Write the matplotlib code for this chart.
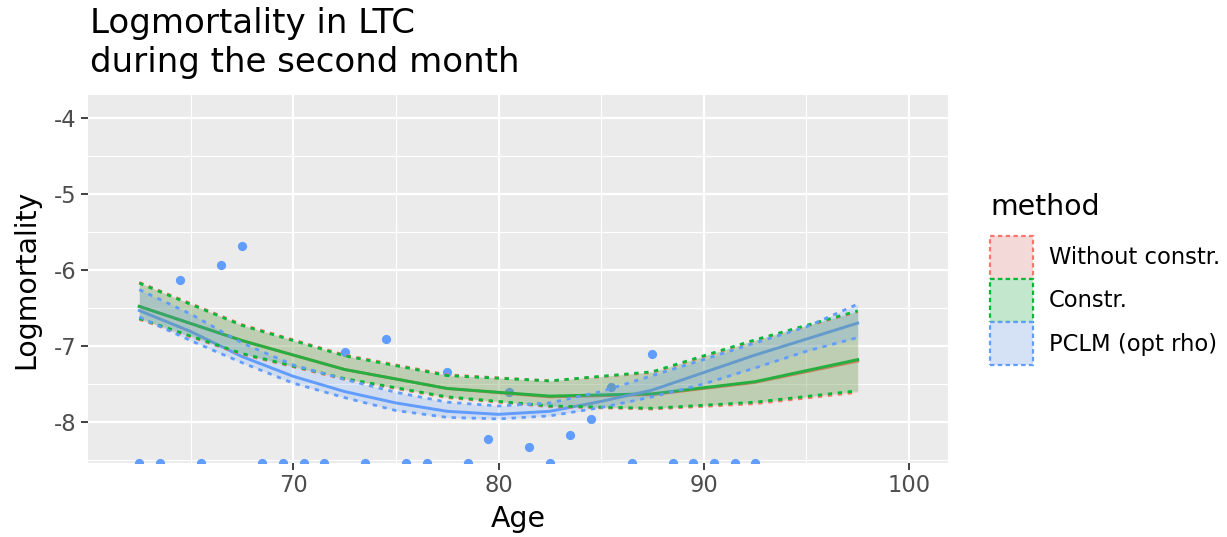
import numpy as np
import matplotlib
matplotlib.use("Agg")
import matplotlib.pyplot as plt
from matplotlib.patches import Patch
from matplotlib.ticker import FixedLocator, MultipleLocator

plt.rcParams['font.family'] = ['DejaVu Sans']
plt.rcParams['axes.unicode_minus'] = False

# observed log mortality (-inf = no deaths, drawn on the panel edge)
obs_age = [62.5, 63.5, 64.5, 65.5, 66.5, 67.5, 68.5, 69.5, 70.5, 71.5,
           72.5, 73.5, 74.5, 75.5, 76.5, 77.5, 78.5, 79.5, 80.5, 81.5,
           82.5, 83.5, 84.5, 85.5, 86.5, 87.5, 88.5, 89.5, 90.5, 91.5, 92.5]
obs_logm = [-np.inf, -np.inf, -6.13, -np.inf, -5.93, -5.69, -np.inf, -np.inf, -np.inf, -np.inf,
            -7.08, -np.inf, -6.91, -np.inf, -np.inf, -7.34, -np.inf, -8.23, -7.61, -8.33,
            -np.inf, -8.17, -7.96, -7.54, -np.inf, -7.11, -np.inf, -np.inf, -np.inf, -np.inf, -np.inf]

# grouped fits (5-year groups)
grp_age = [62.5, 67.5, 72.5, 77.5, 82.5, 87.5, 92.5, 97.5]
red_fit = [-6.48, -6.93, -7.31, -7.56, -7.67, -7.64, -7.48, -7.20]
red_hi = [-6.165, -6.72, -7.12, -7.38, -7.46, -7.35, -6.93, -6.55]
red_lo = [-6.65, -7.11, -7.44, -7.68, -7.80, -7.83, -7.76, -7.61]
green_fit = [-6.48, -6.93, -7.31, -7.56, -7.66, -7.63, -7.47, -7.18]
green_hi = [-6.175, -6.73, -7.13, -7.39, -7.46, -7.34, -6.92, -6.54]
green_lo = [-6.64, -7.10, -7.43, -7.67, -7.79, -7.82, -7.74, -7.59]

# PCLM fit
pclm_age = [62.5, 65, 67.5, 70, 72.5, 75, 77.5, 80, 82.5, 85, 87.5, 90, 92.5, 95, 97.5]
blue_fit = [-6.535, -6.81, -7.14, -7.40, -7.60, -7.75, -7.86, -7.90, -7.86, -7.73, -7.58, -7.35, -7.12, -6.91, -6.70]
blue_hi = [-6.26, -6.58, -6.96, -7.25, -7.44, -7.61, -7.74, -7.79, -7.75, -7.60, -7.39, -7.18, -6.96, -6.75, -6.45]
blue_lo = [-6.62, -6.93, -7.22, -7.49, -7.68, -7.85, -7.94, -7.96, -7.92, -7.81, -7.67, -7.50, -7.29, -7.07, -6.89]

methods = ['Without constr.', 'Constr.', 'PCLM (opt rho)']
colors = ['#F8766D', '#00BA38', '#619CFF']

series = [
    (grp_age, red_fit, red_lo, red_hi),
    (grp_age, green_fit, green_lo, green_hi),
    (pclm_age, blue_fit, blue_lo, blue_hi),
]

ymin, ymax = -8.54, -3.70
dotted = (0, (1.55, 2.05))

fig = plt.figure(figsize=(12.27, 5.37), dpi=100)
ax = fig.add_axes([88 / 1227, 1 - 463 / 537, 860 / 1227, 368 / 537])
ax.set_facecolor('#EBEBEB')
for s in ax.spines.values():
    s.set_visible(False)

# points first, they sit below the fits
y_pts = np.where(np.isinf(obs_logm), ymin, obs_logm)
ax.scatter(obs_age, y_pts, s=44, color='#619CFF', linewidths=0, zorder=2)

for (a, fit, lo, hi), c in zip(series, colors):
    ax.plot(a, fit, color=c, lw=2.1, zorder=3)
for (a, fit, lo, hi), c in zip(series, colors):
    ax.fill_between(a, lo, hi, color=c, alpha=0.2, lw=0, zorder=4)
    ax.plot(a, hi, color=c, lw=2, ls=dotted, zorder=5)
    ax.plot(a, lo, color=c, lw=2, ls=dotted, zorder=5)

ax.set_xlim(60.0, 101.9)
ax.set_ylim(ymin, ymax)
ax.xaxis.set_major_locator(FixedLocator([70, 80, 90, 100]))
ax.xaxis.set_minor_locator(FixedLocator([65, 75, 85, 95]))
ax.yaxis.set_major_locator(MultipleLocator(1))
ax.yaxis.set_minor_locator(MultipleLocator(0.5))
ax.grid(which='major', color='white', lw=1.6)
ax.grid(which='minor', color='white', lw=0.8)
ax.set_axisbelow(True)
ax.tick_params(which='major', length=5, width=1.3, color='#333333',
               labelsize=16.3, labelcolor='#4D4D4D', pad=3)
ax.tick_params(which='minor', length=0)

ax.set_xlabel('Age', fontsize=20.4, labelpad=6)
ax.set_ylabel('Logmortality', fontsize=20.4, labelpad=10)

fig.text(90 / 1227, 1 - 7 / 537, 'Logmortality in LTC\nduring the second month',
         fontsize=24.5, ha='left', va='top', linespacing=1.22)

# legend: blended fill with dotted border
bg = np.array([242, 242, 242]) / 255
handles = []
for c, m in zip(colors, methods):
    rgb = np.array(matplotlib.colors.to_rgb(c))
    face = 0.2 * rgb + 0.8 * bg
    handles.append(Patch(facecolor=face, edgecolor=c, linestyle=(0, (2, 1.5)), lw=1.6, label=m))
fig.text(990 / 1227, 1 - 215 / 537, 'method', fontsize=20.4, ha='left', va='baseline')
leg = fig.legend(handles=handles, loc='upper left',
                 bbox_to_anchor=(990 / 1227, 1 - 236 / 537), frameon=False,
                 fontsize=16.3, handlelength=1.9, handleheight=2.55,
                 labelspacing=0.0, handletextpad=0.7, borderpad=0, borderaxespad=0)

fig.savefig('out.png', dpi=100)
